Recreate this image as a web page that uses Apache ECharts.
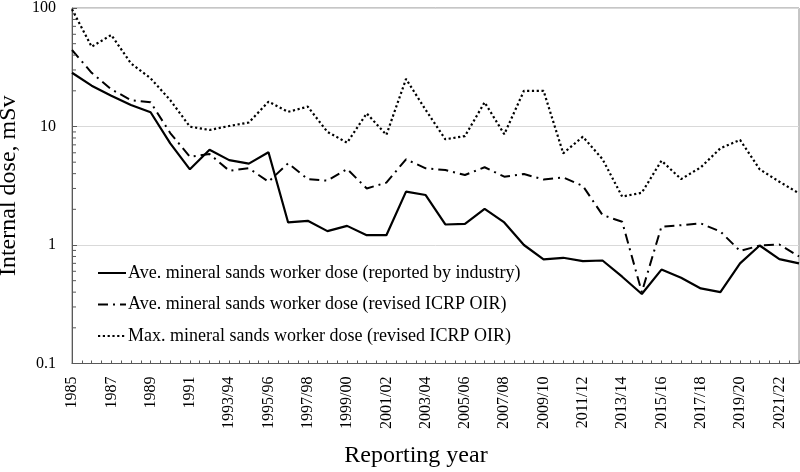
<!DOCTYPE html>
<html>
<head>
<meta charset="utf-8">
<script src="https://cdn.jsdelivr.net/npm/echarts@6/dist/echarts.min.js"></script>
<style>html,body{margin:0;padding:0;background:#fff;}#c{width:800px;height:472px;}</style>
</head>
<body>
<div id="c"></div>
<script>
const categories = ['1985','1986','1987','1988','1989','1990','1991','1992',
  '1993/94','1994/95','1995/96','1996/97','1997/98','1998/99','1999/00','2000/01',
  '2001/02','2002/03','2003/04','2004/05','2005/06','2006/07','2007/08','2008/09',
  '2009/10','2010/11','2011/12','2012/13','2013/14','2014/15','2015/16','2016/17',
  '2017/18','2018/19','2019/20','2020/21','2021/22','2022/23'];

const aveIndustry = [28.4,22.1,18.2,15.2,13.2,7.2,4.35,6.37,5.2,4.86,6.06,1.55,1.6,1.31,1.45,1.21,1.21,2.82,2.64,1.49,1.51,2.02,1.55,1.0,0.757,0.78,0.73,0.74,0.54,0.386,0.62,0.53,0.43,0.40,0.70,0.99,0.76,0.70];
const aveRevised = [44.2,28.4,20.6,16.7,16.0,8.8,5.56,5.86,4.24,4.44,3.42,4.89,3.6,3.49,4.38,3.0,3.36,5.29,4.44,4.29,3.9,4.53,3.77,3.97,3.57,3.72,3.15,1.79,1.57,0.40,1.43,1.47,1.52,1.30,0.89,0.99,1.01,0.80];
const maxRevised = [97.5,47.1,59.2,34.1,25.5,16.7,9.97,9.35,10.1,10.8,16.2,13.3,14.7,9.0,7.3,12.9,8.5,25.2,13.8,7.8,8.3,16.0,8.6,20.0,20.0,5.94,8.2,5.3,2.56,2.76,5.15,3.6,4.52,6.55,7.7,4.35,3.42,2.73];

const seriesNames = [
  'Ave. mineral sands worker dose (reported by industry)',
  'Ave. mineral sands worker dose (revised ICRP OIR)',
  'Max. mineral sands worker dose (revised ICRP OIR)'
];
const yDecades = [0.1, 1, 10];

// half-category tick slots (two per category interval)
const tickSlots = categories.slice(1).flatMap(() => ['', '']);
const minorTicks = [];
yDecades.forEach(d => { for (let k = 2; k <= 9; k++) minorTicks.push([0, +(k * d).toPrecision(3)]); });

const FONT = '"Liberation Serif", "Times New Roman", serif';
const chart = echarts.init(document.getElementById('c'), null, {renderer: 'canvas'});
chart.setOption({
  animation: false,
  backgroundColor: '#fff',
  textStyle: {fontFamily: FONT, color: '#000'},
  grid: {left: 72, top: 8, right: 1, bottom: 108.5, show: true, borderColor: '#8c8c8c', borderWidth: 1,
    containLabel: false, outerBoundsMode: 'none'},
  legend: {
    data: seriesNames, orient: 'vertical', left: 97, top: 264, padding: 0,
    itemWidth: 28, itemHeight: 14, itemGap: 13.5,
    itemStyle: {opacity: 0},
    textStyle: {fontFamily: FONT, fontSize: 18, color: '#000', padding: [0, 0, 0, -3]},
    selectedMode: false
  },
  graphic: [{
    type: 'text', x: 416, y: 456,
    style: {text: 'Reporting year', font: '24px ' + FONT, fill: '#000', textAlign: 'center', textVerticalAlign: 'middle'}
  }],
  xAxis: [{
    type: 'category', data: categories, boundaryGap: false,
    axisLine: {lineStyle: {color: '#595959', width: 1}},
    axisTick: {show: false},
    axisLabel: {interval: 1, rotate: 90, fontSize: 16, fontFamily: FONT, color: '#000', margin: 13},
    splitLine: {show: false}
  }, {
    type: 'category', data: tickSlots, boundaryGap: true, position: 'bottom',
    axisLine: {show: false},
    axisTick: {show: true, inside: true, length: 3, interval: 0, lineStyle: {color: '#595959'}},
    axisLabel: {show: false}, splitLine: {show: false}
  }],
  yAxis: {
    type: 'log', logBase: 10, min: 0.1, max: 100,
    name: 'Internal dose, mSv', nameLocation: 'middle', nameGap: 50,
    nameTextStyle: {fontSize: 24, fontFamily: FONT, color: '#000'},
    axisLine: {show: true, lineStyle: {color: '#595959', width: 1}},
    axisTick: {show: true, inside: true, length: 5, lineStyle: {color: '#595959'}},
    axisLabel: {fontSize: 16, fontFamily: FONT, color: '#000', margin: 16,
      formatter: v => (v < 1 ? String(v) : String(Math.round(v)))},
    splitLine: {show: true, lineStyle: {color: '#d9d9d9', width: 1}}
  },
  series: [{
    name: seriesNames[0], type: 'line', data: aveIndustry, symbol: 'none',
    lineStyle: {color: '#000', width: 2.2, type: 'solid'}, itemStyle: {color: '#000'}, z: 5
  }, {
    name: seriesNames[1], type: 'line', data: aveRevised, symbol: 'none',
    lineStyle: {color: '#000', width: 2, type: [10, 5, 2, 5]}, itemStyle: {color: '#000'}, z: 4
  }, {
    name: seriesNames[2], type: 'line', data: maxRevised, symbol: 'none',
    lineStyle: {color: '#000', width: 2.2, type: [2.2, 2.6]}, itemStyle: {color: '#000'}, z: 3
  }, {
    type: 'custom', data: minorTicks, clip: false, silent: true, z: 6,
    encode: {x: 0, y: 1},
    renderItem: (params, api) => {
      const p = api.coord([api.value(0), api.value(1)]);
      return {type: 'line', shape: {x1: p[0], y1: p[1], x2: p[0] + 4, y2: p[1]}, style: {stroke: '#595959', lineWidth: 1}};
    }
  }]
});
</script>
</body>
</html>
